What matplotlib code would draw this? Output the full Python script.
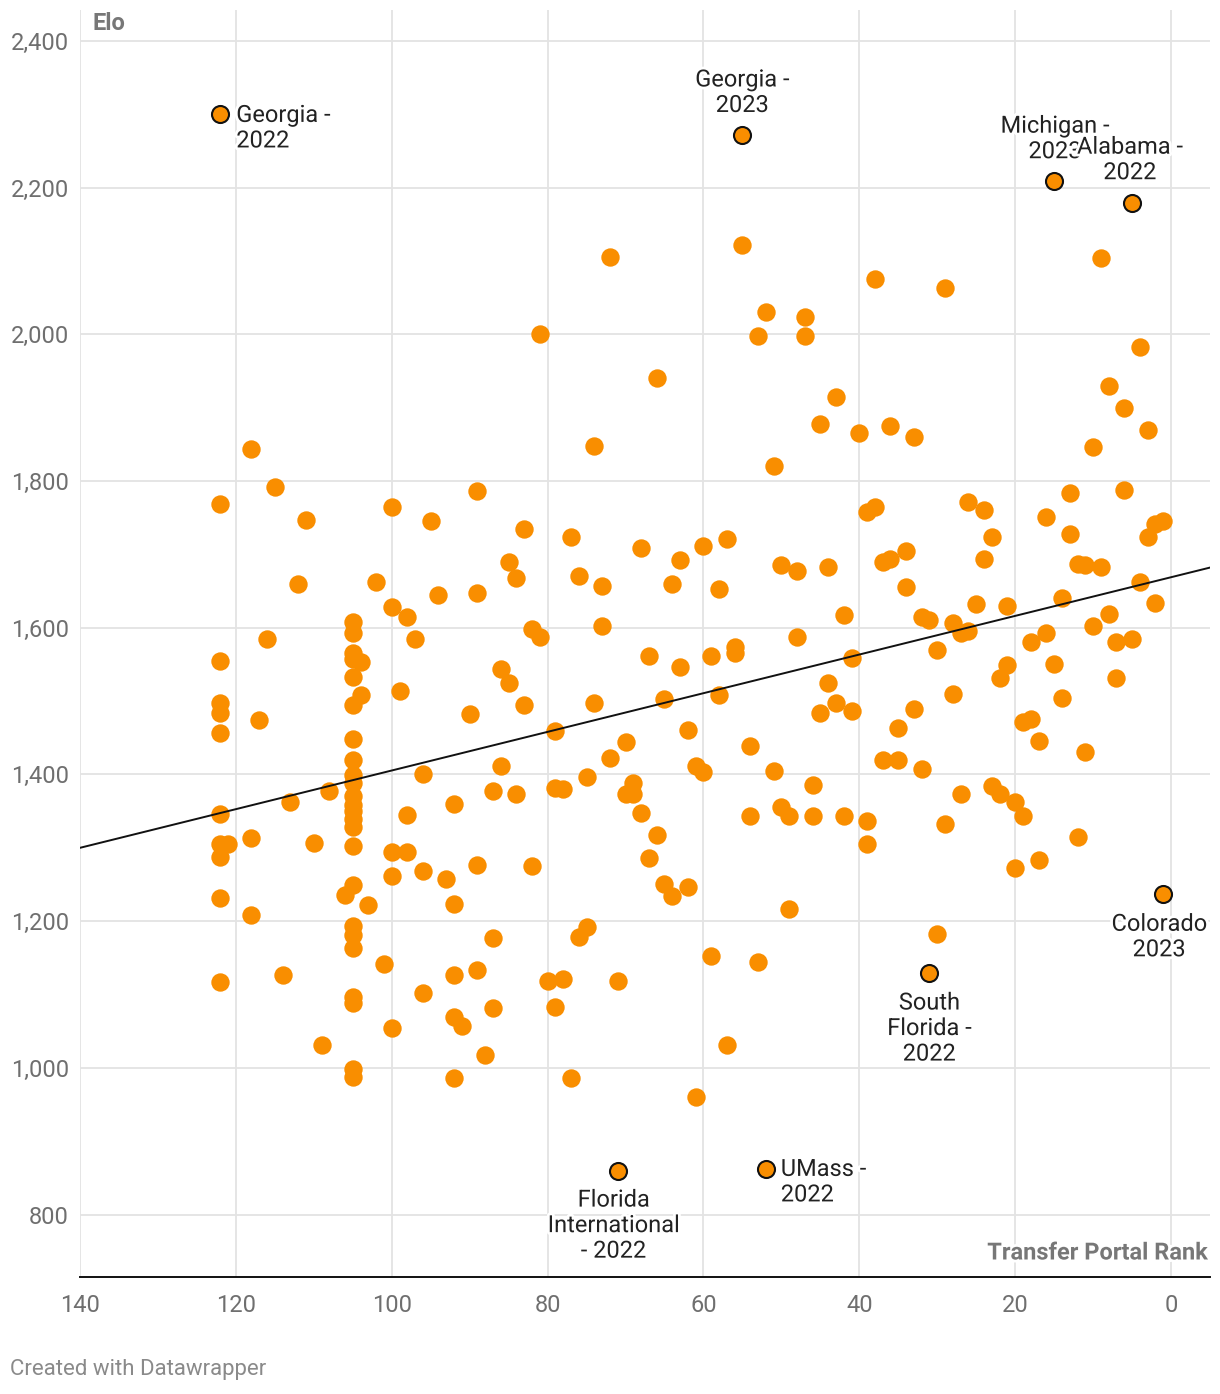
import matplotlib
matplotlib.use("Agg")
import matplotlib.pyplot as plt
import matplotlib.patheffects as pe
from matplotlib.ticker import FuncFormatter, FixedLocator

plt.rcParams['font.family'] = ['Roboto', 'DejaVu Sans']

# ---------------- data ----------------
rank = (
    [122]*10 + [121] + [118]*3 + [117, 116, 115, 114, 113, 112, 111, 110, 109, 108, 106]
    + [105]*24 + [104]*2 + [103, 102, 101] + [100]*5 + [99] + [98]*3 + [97] + [96]*3
    + [95, 94, 93] + [92]*5 + [91, 90] + [89]*4 + [88] + [87]*3 + [86]*2 + [85]*2
    + [84]*2 + [83]*2 + [82]*2 + [81]*2 + [80] + [79]*3 + [78]*2 + [77]*2 + [76]*2
    + [75]*2 + [74]*2 + [73]*2 + [72]*2 + [71] + [70]*2 + [69]*2 + [68]*2 + [67]*2
    + [66]*2 + [65]*2 + [64]*2 + [63]*2 + [62]*2 + [61]*2 + [60]*2 + [59]*2 + [58]*2
    + [57]*2 + [56]*2 + [55] + [54]*2 + [53]*2 + [52] + [51]*2 + [50]*2 + [49]*2
    + [48]*2 + [47]*2 + [46]*2 + [45]*2 + [44]*2 + [43]*2 + [42]*2 + [41]*2 + [40]
    + [39]*3 + [38]*2 + [37]*2 + [36]*2 + [35]*2 + [34]*2 + [33]*2 + [32]*2 + [31]
    + [30]*2 + [29]*2 + [28]*2 + [27]*2 + [26]*2 + [25] + [24]*2 + [23]*2 + [22]*2
    + [21]*2 + [20]*2 + [19]*2 + [18]*2 + [17]*2 + [16]*2 + [15] + [14]*2 + [13]*2
    + [12]*2 + [11]*2 + [10]*2 + [9]*2 + [8]*2 + [7]*2 + [6]*2 + [5] + [4]*2 + [3]*2
    + [2]*2 + [1]
)

elo = [
    1768, 1555, 1498, 1484, 1456, 1346, 1305, 1288, 1232, 1117,  # 122
    1305,                                                      # 121
    1843, 1314, 1208,                                          # 118
    1474, 1584, 1792, 1126, 1363, 1659, 1747, 1306, 1031, 1377, 1236,
    1608, 1593, 1565, 1557, 1533, 1494, 1449, 1420, 1399, 1389, 1370, 1359,
    1350, 1339, 1328, 1302, 1250, 1194, 1181, 1164, 1096, 1089, 998, 987,  # 105
    1553, 1508,                                                # 104
    1222, 1662, 1141,                                          # 103-101
    1764, 1628, 1294, 1261, 1055,                              # 100
    1514,                                                      # 99
    1615, 1345, 1294,                                          # 98
    1585,                                                      # 97
    1400, 1269, 1102,                                          # 96
    1745, 1644, 1257,                                          # 95-93
    1360, 1223, 1126, 1069, 986,                               # 92
    1057, 1483,                                                # 91, 90
    1786, 1647, 1276, 1134,                                    # 89
    1017,                                                      # 88
    1377, 1177, 1081,                                          # 87
    1544, 1412, 1689, 1525, 1668, 1373, 1735, 1494, 1598, 1275,  # 86-82
    2000, 1588, 1119,                                          # 81, 80
    1459, 1382, 1083,                                          # 79
    1380, 1121, 1724, 986, 1671, 1179, 1396, 1192, 1848, 1497,  # 78-74
    1657, 1603, 2106, 1422, 1118,                              # 73-71
    1444, 1374, 1388, 1374, 1709, 1348, 1562, 1286, 1941, 1317,  # 70-66
    1503, 1251, 1659, 1234, 1692, 1546, 1460, 1246, 1412, 961,   # 65-61
    1711, 1403, 1562, 1153, 1653, 1508, 1721, 1031, 1574, 1566,  # 60-56
    2122,                                                      # 55
    1439, 1344, 1998, 1144, 2031,                              # 54-52
    1821, 1405, 1686, 1356, 1344, 1216, 1678, 1587, 2024, 1998,  # 51-47
    1385, 1344, 1878, 1484, 1683, 1525, 1914, 1497, 1618, 1344,  # 46-42
    1559, 1487, 1865,                                          # 41, 40
    1758, 1337, 1305,                                          # 39
    2076, 1765, 1689, 1420, 1875, 1694, 1464, 1420, 1705, 1656,  # 38-34
    1860, 1489, 1615, 1408, 1610,                              # 33-31
    1569, 1182, 2063, 1332, 1606, 1510, 1593, 1374, 1771, 1595,  # 30-26
    1632,                                                      # 25
    1760, 1694, 1724, 1384, 1532, 1373, 1630, 1549, 1363, 1272,  # 24-20
    1471, 1344, 1580, 1475, 1445, 1283, 1751, 1593,            # 19-16
    1550,                                                      # 15
    1641, 1504, 1784, 1728, 1687, 1315, 1685, 1430, 1847, 1602,  # 14-10
    2104, 1683, 1929, 1619, 1580, 1531, 1899, 1788,            # 9-6
    1584,                                                      # 5
    1983, 1662, 1870, 1723, 1741, 1634,                        # 4-2
    1745,                                                      # 1
]

hl_rank = [122, 55, 15, 5, 1, 31, 52, 71]
hl_elo = [2300, 2272, 2209, 2179, 1237, 1130, 862, 860]
hl_label = ["Georgia -\n2022", "Georgia -\n2023", "Michigan -\n2023", "Alabama -\n2022",
            "Colorado\n2023", "South\nFlorida -\n2022", "UMass -\n2022",
            "Florida\nInternational\n- 2022"]

trend_rank = [140, -5]
trend_elo = [1300, 1682]

x_ticks = [140, 120, 100, 80, 60, 40, 20, 0]
y_ticks = [800, 1000, 1200, 1400, 1600, 1800, 2000, 2200, 2400]

# ---------------- styling ----------------
ORANGE = "#F98E00"
GRID = "#e3e3e3"
TICKC = "#6f6f6f"
TEXTC = "#222222"

fig = plt.figure(figsize=(12.2, 13.94), dpi=100)
ax = fig.add_axes([80/1220, 117/1394, 1130/1220, 1267/1394])

ax.set_xlim(140, -5)
ax.set_ylim(715, 2442)

ax.xaxis.set_major_locator(FixedLocator(x_ticks))
ax.yaxis.set_major_locator(FixedLocator(y_ticks))
ax.yaxis.set_major_formatter(FuncFormatter(lambda v, p: f"{int(v):,}"))
ax.grid(True, color=GRID, linewidth=1.3, zorder=0)
ax.set_axisbelow(True)
for s in ["top", "right", "left"]:
    ax.spines[s].set_visible(False)
ax.spines["bottom"].set_color("#111111")
ax.spines["bottom"].set_linewidth(1.4)
ax.tick_params(axis="both", length=0, labelsize=17, colors=TICKC)
ax.tick_params(axis="y", pad=8)
ax.tick_params(axis="x", pad=12)

ax.scatter(rank, elo, s=175, color=ORANGE, linewidths=0, zorder=3)
ax.plot(trend_rank, trend_elo, color="#111111", linewidth=1.4, zorder=4)
ax.scatter(hl_rank, hl_elo, s=150, color=ORANGE, edgecolors="#111111",
           linewidths=1.5, zorder=5)

# label placements (offsets in pixels, label block centre relative to point)
placements = [
    dict(xytext=(16, -14), ha="left", ma="left"),
    dict(xytext=(0, 42), ha="center", ma="center"),
    dict(xytext=(1, 42), ha="center", ma="center"),
    dict(xytext=(-2, 43), ha="center", ma="center"),
    dict(xytext=(-4, -43), ha="center", ma="center"),
    dict(xytext=(0, -56), ha="center", ma="center"),
    dict(xytext=(15, -13), ha="left", ma="left"),
    dict(xytext=(-4, -55), ha="center", ma="center"),
]
halo = [pe.withStroke(linewidth=4, foreground="white")]
for r, e, lab, pl in zip(hl_rank, hl_elo, hl_label, placements):
    ax.annotate(lab, (r, e), textcoords="offset pixels", fontsize=17, va="center",
                color=TEXTC, linespacing=1.14, zorder=6, path_effects=halo, **pl)

ax.text(13/1130, 1 - 14/1267, "Elo", transform=ax.transAxes, fontsize=17,
        fontweight="bold", color="#777777", ha="left", va="center")
ax.text(1 - 2/1130, 24/1267, "Transfer Portal Rank", transform=ax.transAxes,
        fontsize=17, fontweight="bold", color="#777777", ha="right", va="center",
        path_effects=halo)

fig.text(10/1220, 1 - 1370/1394, "Created with Datawrapper", fontsize=16,
         color="#8a8a8a", ha="left", va="center")

fig.savefig("out.png", dpi=100, facecolor="white")
